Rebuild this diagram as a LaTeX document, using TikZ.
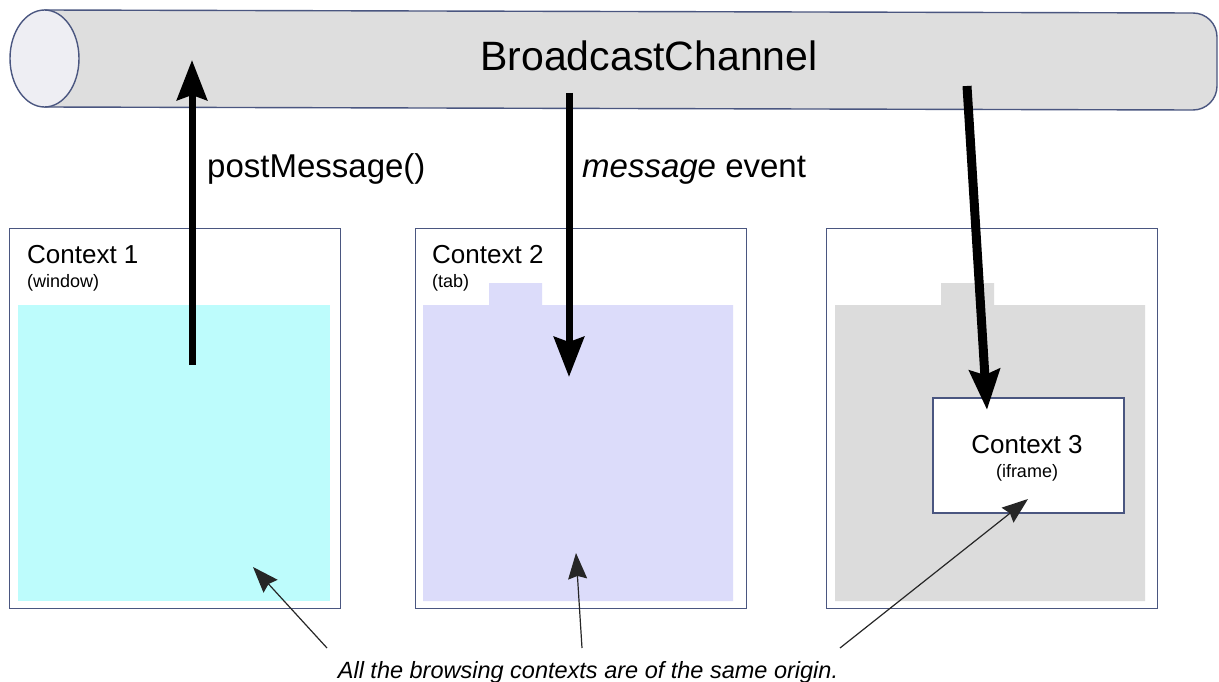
\documentclass[tikz,border=0pt]{standalone}
\usepackage{fontspec}
\setmainfont{Liberation Sans}
\usetikzlibrary{arrows.meta,positioning}
\definecolor{edge}{HTML}{4A5680}
\definecolor{pipe}{HTML}{DEDEDE}
\definecolor{pipeend}{HTML}{EEEEF3}
\definecolor{cyanfill}{HTML}{BDFCFC}
\definecolor{tabfill}{HTML}{DCDCFA}
\definecolor{framefill}{HTML}{DCDCDC}

\begin{document}
\begin{tikzpicture}[x=1pt,y=-1pt,
    ctxbox/.style={draw=edge, line width=1.4pt, fill=white, anchor=north west, inner sep=0pt, minimum width=331pt, minimum height=380pt},
    bigarrow/.style={line width=7pt, -{Stealth[length=40pt,width=30pt,inset=5pt]}},
    thinarrow/.style={draw=black!85, line width=1.2pt, -{Stealth[length=26pt,width=19pt,inset=3pt]}},
    ctxname/.style={anchor=base west, inner sep=0pt, font=\fontsize{26}{26}\selectfont},
    ctxkind/.style={anchor=base west, inner sep=0pt, font=\fontsize{18}{18}\selectfont}]
    \useasboundingbox (0,0) rectangle (1219,682);

    % the channel
    \draw[draw=edge, fill=pipe, line width=1.4pt] (44,10) -- (1193,13) to[out=0,in=90] (1217,37) -- (1217,86) to[out=-90,in=0] (1193,110) -- (44,107);
    \draw[draw=edge, fill=pipeend, line width=1.4pt] (44.5,58.5) ellipse [x radius=34.5pt, y radius=48.5pt];
    \node (chan) at (649,56) {\fontsize{41}{41}\selectfont BroadcastChannel};

    % contexts
    \node (ctx1) [ctxbox] at (9,228) {};
    \fill[cyanfill] (18,305) rectangle (330,601);
    \node (name1) [ctxname] at (27,263) {Context 1};
    \node (kind1) [ctxkind] at (27,287) {(window)};

    \node (ctx2) [ctxbox] at (415,228) {};
    \fill[tabfill] (423,305) rectangle (733,601) (489,283) rectangle (542,305);
    \node (name2) [ctxname] at (432,263) {Context 2};
    \node (kind2) [ctxkind] at (432,287) {(tab)};

    \node (ctx3) [ctxbox] at (826,228) {};
    \fill[framefill] (835,305) rectangle (1145,601) (941,283) rectangle (994,305);
    \node (frame) [draw=edge, line width=1.4pt, fill=white, minimum width=191pt, minimum height=115pt, inner sep=0pt] at (1028.5,455.5) {};
    \node (name3) [anchor=base, inner sep=0pt, font=\fontsize{26}{26}\selectfont] at (1027,453) {Context 3};
    \node (kind3) [anchor=base, inner sep=0pt, font=\fontsize{18}{18}\selectfont] at (1027,477) {(iframe)};

    % messages
    \coordinate (pmfrom) at (192,365);
    \coordinate (pmto) at (192,60);
    \coordinate (evfrom) at (569,93);
    \coordinate (evto) at (569,377);
    \coordinate (ifrom) at (967,86);
    \coordinate (ito) at (987,410);
    \draw[bigarrow] (pmfrom) -- (pmto);
    \draw[bigarrow] (evfrom) -- (evto);
    \draw[bigarrow, line width=9pt] (ifrom) -- (ito);
    \node (post) [anchor=base west, inner sep=0pt, font=\fontsize{33}{33}\selectfont] at (207,178) {postMessage()};
    \node (event) [anchor=base west, inner sep=0pt, font=\fontsize{33}{33}\selectfont] at (582,178) {\emph{message} event};

    % note
    \node (note) [anchor=base, inner sep=0pt, font=\itshape\fontsize{23.5}{23.5}\selectfont] at (588,678) {All the browsing contexts are of the same origin.};
    \coordinate (n1) at (327,648);
    \coordinate (n2) at (582,648);
    \coordinate (n3) at (840,648);
    \coordinate (t1) at (253,567);
    \coordinate (t2) at (576,553);
    \coordinate (t3) at (1028,499);
    \draw[thinarrow] (n1) -- (t1);
    \draw[thinarrow] (n2) -- (t2);
    \draw[thinarrow] (n3) -- (t3);
\end{tikzpicture}
\end{document}
